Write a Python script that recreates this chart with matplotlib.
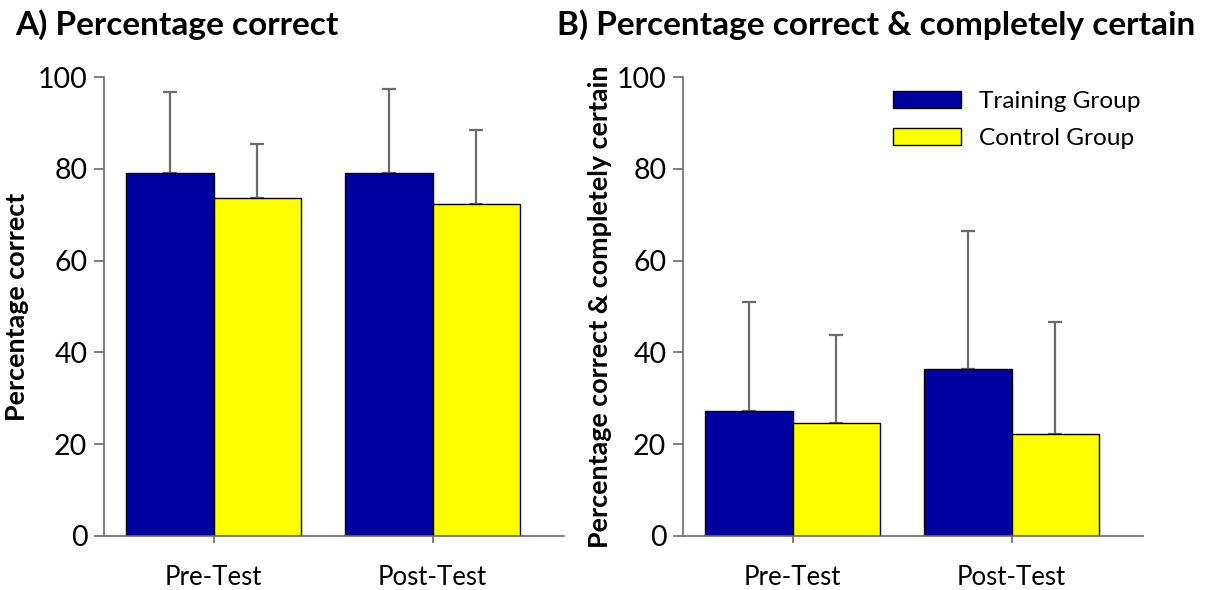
import matplotlib
matplotlib.use("Agg")
from matplotlib import pyplot as plt
import numpy as np

plt.rcParams['font.family'] = ['Lato', 'DejaVu Sans']

groups = ["Pre-Test", "Post-Test"]
series = ["Training Group", "Control Group"]

# panel A: percentage correct (mean, upper error)
correct_training = [79.1, 79.1]
correct_training_err = [17.6, 18.3]
correct_control = [73.6, 72.3]
correct_control_err = [11.8, 16.2]

# panel B: percentage correct & completely certain
certain_training = [27.2, 36.4]
certain_training_err = [23.8, 30.0]
certain_control = [24.6, 22.3]
certain_control_err = [19.2, 24.4]

blue = "#0000a0"
yellow = "#ffff00"
grey = "#6b6b6b"

W, H = 1211, 590
fig = plt.figure(figsize=(W / 100, H / 100), dpi=100)

ax_a = fig.add_axes([104 / W, 1 - 536 / H, 460 / W, 459 / H])
ax_b = fig.add_axes([683 / W, 1 - 536 / H, 460 / W, 459 / H])

x = np.arange(len(groups))
width = 0.40


def draw_panel(ax, train, train_err, ctrl, ctrl_err, ylabel):
    ax.bar(x - width / 2, train, width, color=blue, edgecolor="black", linewidth=1,
           label=series[0], zorder=2)
    ax.bar(x + width / 2, ctrl, width, color=yellow, edgecolor="black", linewidth=1,
           label=series[1], zorder=2)
    ax.errorbar(x - width / 2, train, yerr=[np.zeros(2), train_err], fmt="none",
                ecolor=grey, elinewidth=1.6, capsize=5, capthick=1.6, zorder=1)
    ax.errorbar(x + width / 2, ctrl, yerr=[np.zeros(2), ctrl_err], fmt="none",
                ecolor=grey, elinewidth=1.6, capsize=5, capthick=1.6, zorder=1)
    ax.set_xlim(-0.5, 1.6)
    ax.set_ylim(0, 100)
    ax.set_yticks([0, 20, 40, 60, 80, 100])
    ax.set_xticks(x)
    ax.set_xticklabels(groups, fontsize=18.5)
    ax.tick_params(axis="y", labelsize=20.5, length=7, width=1.2, color=grey, pad=5)
    ax.tick_params(axis="x", length=5, width=1.2, color=grey, pad=16)
    for s in ["top", "right"]:
        ax.spines[s].set_visible(False)
    for s in ["left", "bottom"]:
        ax.spines[s].set_color(grey)
        ax.spines[s].set_linewidth(1.2)
    ax.set_ylabel(ylabel, fontsize=19.4, fontweight="bold")


draw_panel(ax_a, correct_training, correct_training_err, correct_control,
           correct_control_err, "Percentage correct")
draw_panel(ax_b, certain_training, certain_training_err, certain_control,
           certain_control_err, "Percentage correct & completely certain")

ax_a.yaxis.set_label_coords(-75 / 460, 0.5)
ax_b.yaxis.set_label_coords(-71 / 460, 0.5)

ax_b.legend(loc="upper left", bbox_to_anchor=(893 / W, 1 - 91 / H),
            bbox_transform=fig.transFigure, frameon=False, fontsize=17.6,
            handlelength=2.8, handleheight=0.7, handletextpad=0.7,
            labelspacing=0.65, borderpad=0, borderaxespad=0)

fig.text(15 / W, 1 - 25 / H, "A) Percentage correct", fontsize=24,
         fontweight="bold", va="center", ha="left")
fig.text(557 / W, 1 - 25 / H, "B) Percentage correct & completely certain",
         fontsize=24, fontweight="bold", va="center", ha="left")

fig.savefig("out.png", dpi=100)
